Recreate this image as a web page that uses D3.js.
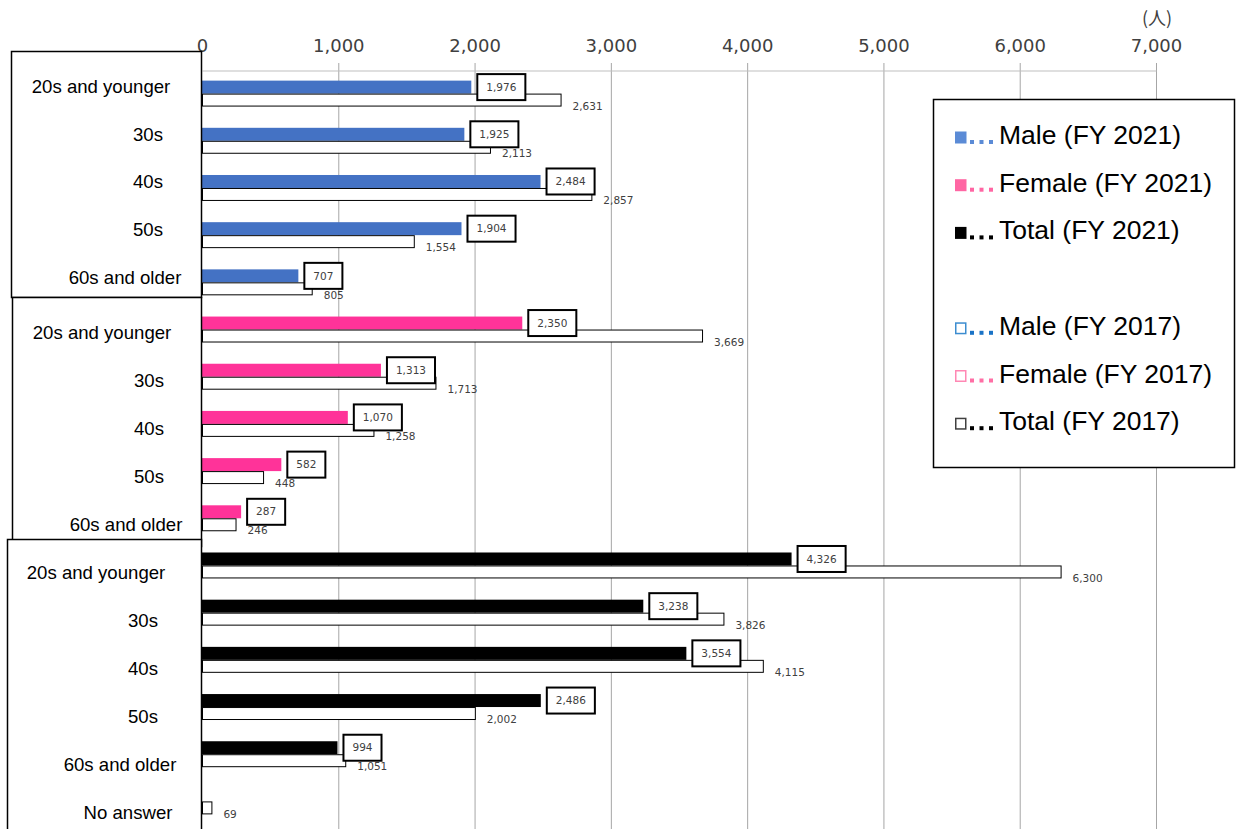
<!DOCTYPE html>
<html>
<head>
<meta charset="utf-8">
<script src="https://cdn.jsdelivr.net/npm/d3@7"></script>
<style>
  body { margin: 0; background: #fff; }
  svg { display: block; }
</style>
</head>
<body>
<svg id="chart"></svg>
<script>
const width = 1237;
const height = 829;

// data
const groups = ["Male", "Female", "Total"];
const ages = ["20s and younger", "30s", "40s", "50s", "60s and older"];
const male2021 = [1976, 1925, 2484, 1904, 707];
const male2017 = [2631, 2113, 2857, 1554, 805];
const female2021 = [2350, 1313, 1070, 582, 287];
const female2017 = [3669, 1713, 1258, 448, 246];
const total2021 = [4326, 3238, 3554, 2486, 994];
const total2017 = [6300, 3826, 4115, 2002, 1051];
const noAnswer2017 = 69;
const xTicks = [0, 1000, 2000, 3000, 4000, 5000, 6000, 7000];
const unitLabel = "(人)";

const legendItems = [
  { name: "Male (FY 2021)", fill: "#5b8bd6", stroke: "none", dots: "#5b8bd6" },
  { name: "Female (FY 2021)", fill: "#ff66a3", stroke: "none", dots: "#ff66a3" },
  { name: "Total (FY 2021)", fill: "#000", stroke: "none", dots: "#000" },
  null,
  { name: "Male (FY 2017)", fill: "#fff", stroke: "#3c8dd0", dots: "#1a73c6" },
  { name: "Female (FY 2017)", fill: "#fff", stroke: "#ff88b4", dots: "#ff6fa5" },
  { name: "Total (FY 2017)", fill: "#fff", stroke: "#404040", dots: "#000" }
];

const barColor = { Male: "#4472c4", Female: "#ff3399", Total: "#000" };
const series2021 = { Male: male2021, Female: female2021, Total: total2021 };
const series2017 = { Male: male2017, Female: female2017, Total: total2017 };

// one row per category
const rows = [];
groups.forEach((g, gi) => {
  ages.forEach((a, i) => {
    rows.push({ group: g, gi: gi, i: i, age: a, v2021: series2021[g][i], v2017: series2017[g][i] });
  });
});
rows.push({ group: "Total", gi: 2, i: 5, age: "No answer", v2021: null, v2017: noAnswer2017 });
rows.forEach((d, k) => d.key = k);

const svg = d3.select("#chart")
  .attr("width", width)
  .attr("height", height)
  .style("font-family", "'Liberation Sans', Arial, sans-serif");

const x = d3.scaleLinear().domain([0, 7000]).range([202, 1156]);
const y = d3.scaleBand()
  .domain(rows.map(d => d.key))
  .range([70, 825])
  .paddingInner(0.45)
  .paddingOuter(0.225);
const half = y.bandwidth() / 2;

// gridlines
svg.append("g")
  .selectAll("line")
  .data(xTicks.slice(1))
  .join("line")
  .attr("x1", d => x(d) + 0.5)
  .attr("x2", d => x(d) + 0.5)
  .attr("y1", 63)
  .attr("y2", height)
  .attr("stroke", "#a6a6a6")
  .attr("stroke-width", 1);

// top axis
const axis = svg.append("g")
  .attr("transform", "translate(0,70.5)")
  .call(d3.axisTop(x).tickValues(xTicks).tickFormat(d3.format(",")).tickSize(0).tickPadding(19));
axis.select(".domain").attr("stroke", "#bfbfbf");
axis.selectAll("text")
  .attr("fill", "#404040")
  .style("font-family", "'DejaVu Sans', sans-serif")
  .style("font-size", "18px");

svg.append("text")
  .attr("x", x(7000) + 1)
  .attr("y", 25)
  .attr("text-anchor", "middle")
  .attr("fill", "#404040")
  .style("font-family", "'Noto Sans CJK JP', sans-serif")
  .style("font-size", "18px")
  .text(unitLabel);

// bars
const barG = svg.append("g");
barG.selectAll("rect.b2021")
  .data(rows.filter(d => d.v2021 != null))
  .join("rect")
  .attr("class", "b2021")
  .attr("x", x(0))
  .attr("y", d => y(d.key))
  .attr("width", d => x(d.v2021) - x(0))
  .attr("height", half)
  .attr("fill", d => barColor[d.group]);

barG.selectAll("rect.b2017")
  .data(rows)
  .join("rect")
  .attr("class", "b2017")
  .attr("x", x(0) + 0.5)
  .attr("y", d => y(d.key) + half + 0.5)
  .attr("width", d => x(d.v2017) - x(0))
  .attr("height", half - 1)
  .attr("fill", "#fff")
  .attr("stroke", "#000")
  .attr("stroke-width", 1);

// 2017 labels
const fmt = d3.format(",");
svg.append("g")
  .selectAll("text")
  .data(rows)
  .join("text")
  .attr("x", d => x(d.v2017) + 12)
  .attr("y", d => y(d.key) + half * 1.5 + 6)
  .attr("dy", "0.35em")
  .attr("fill", "#404040")
  .style("font-family", "'DejaVu Sans', sans-serif")
  .style("font-size", "10.5px")
  .text(d => fmt(d.v2017));

// 2021 labels in boxes
const lab = svg.append("g")
  .selectAll("g")
  .data(rows.filter(d => d.v2021 != null))
  .join("g");
lab.append("rect");
lab.append("text")
  .attr("x", d => x(d.v2021) + 15)
  .attr("y", d => y(d.key) + half / 2)
  .attr("dy", "0.35em")
  .attr("fill", "#404040")
  .style("font-family", "'DejaVu Sans', sans-serif")
  .style("font-size", "10.5px")
  .text(d => fmt(d.v2021));
lab.each(function(d) {
  const g = d3.select(this);
  const w = g.select("text").node().getComputedTextLength();
  g.select("rect")
    .attr("x", x(d.v2021) + 6)
    .attr("y", y(d.key) + half / 2 - 13)
    .attr("width", w + 18)
    .attr("height", 26)
    .attr("fill", "#fff")
    .attr("stroke", "#000")
    .attr("stroke-width", 2);
});

// category boxes on the left
const boxes = [
  { x0: 11, y0: 51, y1: 297 },
  { x0: 12, y0: 297, y1: 546 },
  { x0: 7, y0: 539, y1: 840 }
];
svg.append("g")
  .selectAll("rect")
  .data(boxes)
  .join("rect")
  .attr("x", d => d.x0 + 0.5)
  .attr("y", d => d.y0 + 0.5)
  .attr("width", d => 201 - d.x0)
  .attr("height", d => d.y1 - d.y0)
  .attr("fill", "#fff")
  .attr("stroke", "#000")
  .attr("stroke-width", 1.5);

const labelPos = {
  "20s and younger": ["middle", 101],
  "60s and older": ["middle", 125],
  "No answer": ["middle", 133]
};
const groupDx = [0, 1, -5];
const groupDy = [-7.5, 3.4, 7.2];
svg.append("g")
  .selectAll("text")
  .data(rows)
  .join("text")
  .attr("text-anchor", d => labelPos[d.age] ? labelPos[d.age][0] : "end")
  .attr("x", d => (labelPos[d.age] ? labelPos[d.age][1] : 163) + groupDx[d.gi])
  .attr("y", d => y(d.key) + half + groupDy[d.gi] + d.i * 0.75)
  .attr("dy", "0.35em")
  .attr("fill", "#000")
  .style("font-size", "18.6px")
  .text(d => d.age);

// legend
const legend = svg.append("g");
legend.append("rect")
  .attr("x", 933.5)
  .attr("y", 99.5)
  .attr("width", 301)
  .attr("height", 368)
  .attr("fill", "#fff")
  .attr("stroke", "#000")
  .attr("stroke-width", 1.5);

const items = legend.selectAll("g.item")
  .data(legendItems.map((d, k) => d && Object.assign({ k: k }, d)).filter(d => d))
  .join("g")
  .attr("class", "item")
  .attr("transform", d => `translate(0,${144 + d.k * 47.7})`);

items.append("rect")
  .attr("x", d => d.stroke === "none" ? 955 : 955.75)
  .attr("y", d => d.stroke === "none" ? -12.5 : -11.75)
  .attr("width", d => d.stroke === "none" ? 11.5 : 10)
  .attr("height", d => d.stroke === "none" ? 12 : 10.5)
  .attr("fill", d => d.fill)
  .attr("stroke", d => d.stroke)
  .attr("stroke-width", 1.5);

items.selectAll("rect.dot")
  .data(d => [0, 1, 2].map(j => ({ j: j, c: d.dots })))
  .join("rect")
  .attr("class", "dot")
  .attr("x", d => 970 + d.j * 9.5)
  .attr("y", -4)
  .attr("width", 4)
  .attr("height", 4)
  .attr("fill", d => d.c);

items.append("text")
  .attr("x", 999)
  .attr("y", 0)
  .attr("fill", "#000")
  .style("font-size", "26.5px")
  .text(d => d.name);
</script>
</body>
</html>
